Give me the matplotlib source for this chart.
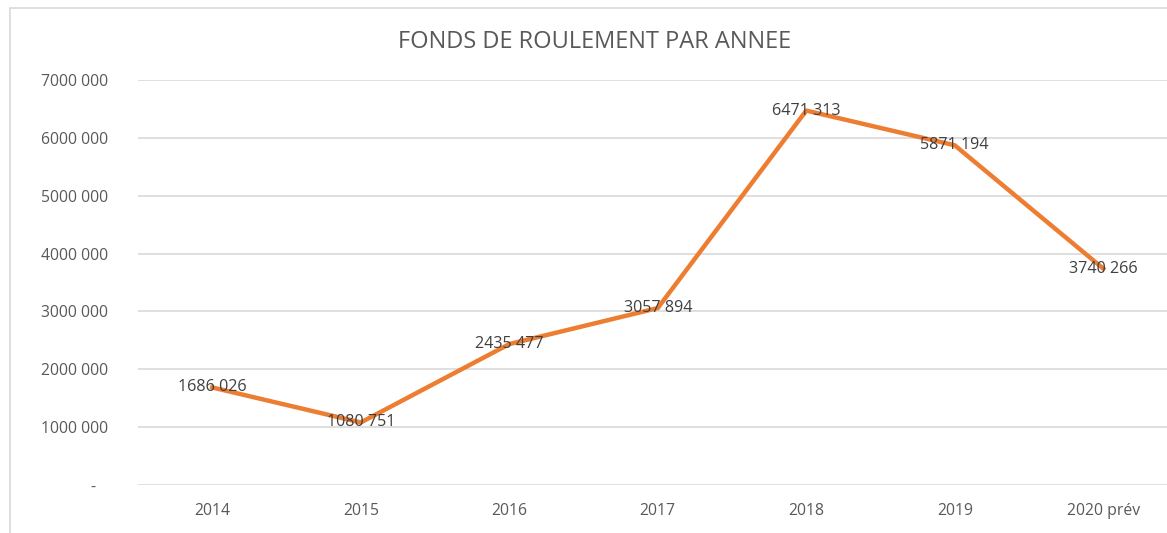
import matplotlib.pyplot as plt
from matplotlib.patches import Rectangle
from matplotlib.ticker import FuncFormatter

years = ["2014", "2015", "2016", "2017", "2018", "2019", "2020 prév"]
fonds = [1686026, 1080751, 2435477, 3057894, 6471313, 5871194, 3740266]
y_ticks = [0, 1000000, 2000000, 3000000, 4000000, 5000000, 6000000, 7000000]


def fmt_num(v):
    v = int(round(v))
    if v == 0:
        return "-   "
    return f"{v // 1000} {v % 1000:03d}"


plt.rcParams["font.family"] = ["Open Sans", "DejaVu Sans"]

fig = plt.figure(figsize=(11.67, 5.33), dpi=100)
fig.patches.append(
    Rectangle((10 / 1167, -0.1), 1.2, 1.1 - 8 / 533, transform=fig.transFigure,
              fill=False, edgecolor="#D9D9D9", linewidth=1.2)
)

ax = fig.add_axes([138 / 1167, 48 / 533, 1039.5 / 1167, 405 / 533])
x = range(len(years))
ax.plot(x, fonds, color="#ED7D31", linewidth=3.2, solid_joinstyle="round", zorder=3)

for xi, v in zip(x, fonds):
    ax.text(xi, v, fmt_num(v), ha="center", va="center", fontsize=11.6,
            color="#404040", zorder=4)

ax.set_xlim(-0.5, len(years) - 0.5)
ax.set_ylim(0, 7000000)
ax.set_yticks(y_ticks)
ax.yaxis.set_major_formatter(FuncFormatter(lambda v, p: fmt_num(v)))
ax.set_xticks(list(x))
ax.set_xticklabels(years)
ax.grid(axis="y", color="#D9D9D9", linewidth=1.2)
ax.set_axisbelow(True)
for s in ax.spines.values():
    s.set_visible(False)
ax.tick_params(axis="both", length=0, colors="#595959", labelsize=11.3)
ax.tick_params(axis="y", pad=21.5)
ax.tick_params(axis="x", pad=13)

fig.text(595 / 1167, 1 - 42 / 533, "FONDS DE ROULEMENT PAR ANNEE", ha="center",
         va="center", fontsize=17, color="#595959")

fig.savefig("out.png", dpi=100)
